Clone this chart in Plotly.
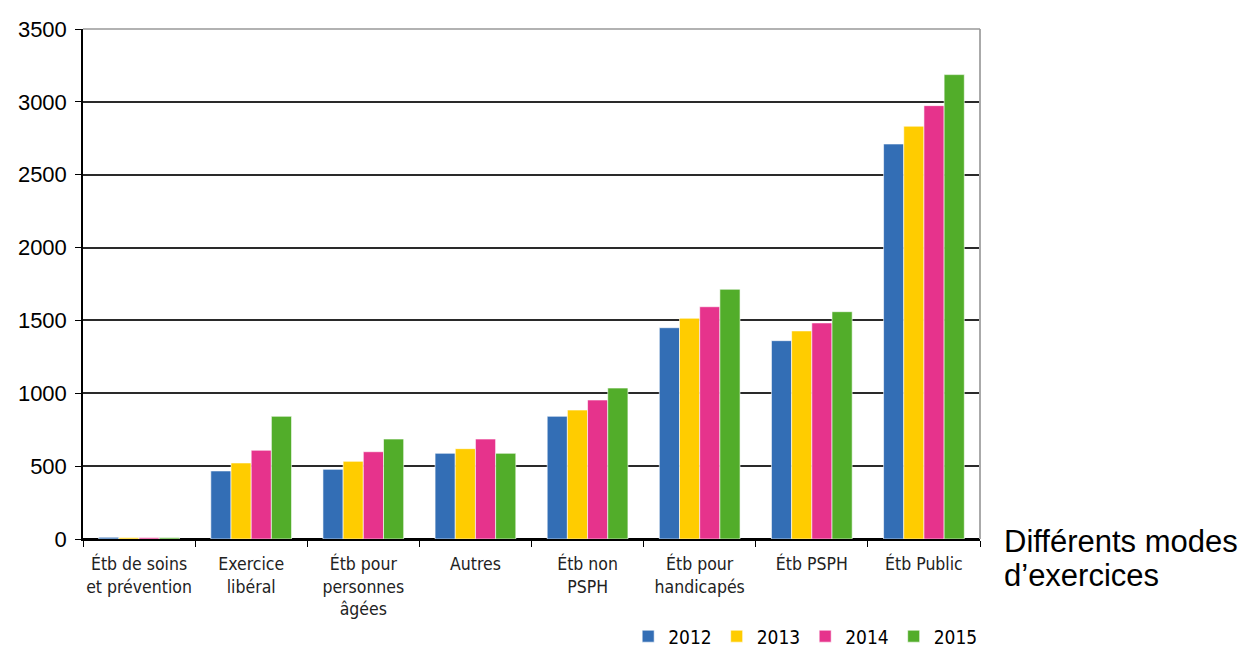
import plotly.graph_objects as go

categories = ["Étb de soins<br>et prévention", "Exercice<br>libéral", "Étb pour<br>personnes<br>âgées",
              "Autres", "Étb non<br>PSPH", "Étb pour<br>handicapés", "Étb PSPH", "Étb Public"]
years = ["2012", "2013", "2014", "2015"]
v2012 = [12, 467, 478, 588, 842, 1450, 1361, 2711]
v2013 = [10, 522, 533, 620, 885, 1515, 1428, 2833]
v2014 = [10, 609, 599, 686, 954, 1594, 1483, 2974]
v2015 = [10, 842, 686, 588, 1036, 1714, 1560, 3187]
colors = ["#336EB5", "#FFCC00", "#E6338C", "#52AD2A"]
y_ticks = [0, 500, 1000, 1500, 2000, 2500, 3000, 3500]
side_title = ["Différents modes", "d’exercices"]

narrow = "DejaVu Sans Condensed, Liberation Sans Narrow, Arial Narrow, sans-serif"
sans = "Liberation Sans, Arial, sans-serif"

fig = go.Figure()
for name, vals, col in zip(years, [v2012, v2013, v2014, v2015], colors):
    fig.add_trace(go.Bar(x=categories, y=vals, name=name, marker_color=col,
                         marker_line=dict(color="rgba(255,255,255,0.6)", width=1)))

annotations = [dict(text=t, xref="paper", yref="paper", x=1.0245, y=yy,
                    xanchor="left", yanchor="middle", showarrow=False, align="left",
                    font=dict(family=sans, size=31, color="black"))
               for t, yy in zip(side_title, [-0.004, -0.072])]

fig.update_layout(
    width=1248, height=648,
    margin=dict(l=83, r=268, t=29, b=109, autoexpand=False),
    plot_bgcolor="white", paper_bgcolor="white",
    barmode="group", bargap=0.28, bargroupgap=0,
    showlegend=True,
    legend=dict(orientation="h", x=0.787, xanchor="right", xref="container",
                y=0.018, yanchor="middle", yref="container",
                font=dict(family=narrow, size=19, color="black"),
                itemwidth=30, tracegroupgap=0),
    xaxis=dict(type="category", tickson="boundaries", ticks="outside", ticklen=6,
               tickcolor="black", showline=True, linecolor="black", linewidth=1.5,
               tickangle=0, automargin=False, ticklabelstandoff=8,
               tickfont=dict(family=narrow, size=17.5, color="#222"), showgrid=False),
    yaxis=dict(range=[0, 3500], tickvals=y_ticks, ticks="outside", ticklen=6,
               tickcolor="black", showline=True, linecolor="black", linewidth=1.5,
               showgrid=True, gridcolor="#2a2a2a", gridwidth=1.5, automargin=False,
               zeroline=True, zerolinecolor="black", zerolinewidth=1.5,
               tickfont=dict(family=sans, size=22, color="black"), ticklabelstandoff=4),
    annotations=annotations,
    shapes=[dict(type="line", xref="paper", yref="paper", x0=1, x1=1, y0=0, y1=1,
                 line=dict(color="#aaaaaa", width=2)),
            dict(type="line", xref="paper", yref="paper", x0=0, x1=1, y0=1, y1=1,
                 line=dict(color="#999999", width=1.5))],
)
fig.write_html("out.html")
